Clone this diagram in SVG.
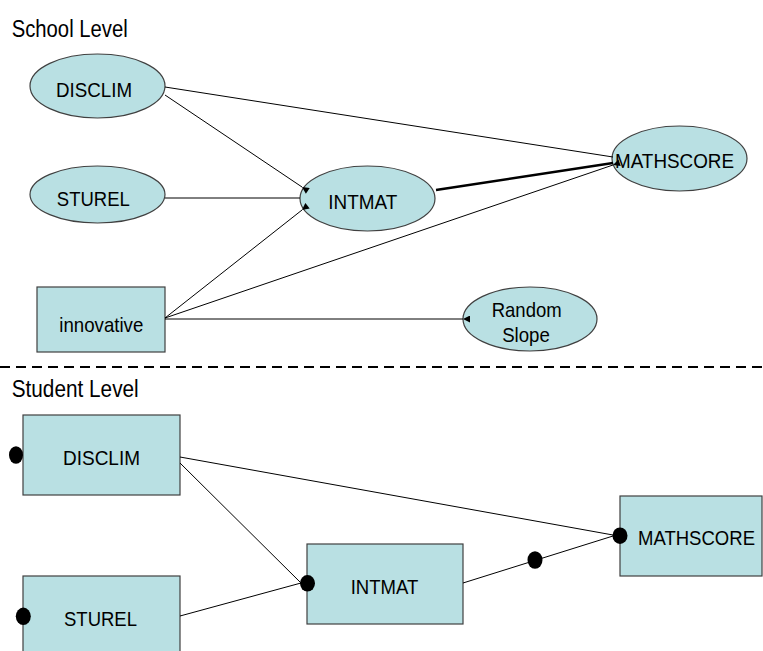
<svg xmlns="http://www.w3.org/2000/svg" width="763" height="651" viewBox="0 0 763 651">
<style>
.n{fill:#b9e0e3;stroke:#404040;stroke-width:1.2}
.t{font-family:"Liberation Sans",Arial,sans-serif;font-size:21px;fill:#000;text-anchor:middle}
.h{font-family:"Liberation Sans",Arial,sans-serif;font-size:23px;fill:#000}
.c{stroke:#000;stroke-width:1;fill:none}
.k{stroke:#000;stroke-width:2.5;fill:none}
.d{fill:#000}
</style>
<defs>
<marker id="ah" markerUnits="userSpaceOnUse" markerWidth="8" markerHeight="8" refX="0" refY="3.5" orient="auto">
<path d="M7,0 L0,3.5 L7,7 z" fill="#000"/>
</marker>
</defs>
<rect width="763" height="651" fill="#fff"/>
<text class="h" x="11.7" y="36.7" textLength="116" lengthAdjust="spacingAndGlyphs">School Level</text>
<text class="h" x="11.7" y="396.7" textLength="127" lengthAdjust="spacingAndGlyphs">Student Level</text>
<line x1="0" y1="367" x2="763" y2="367" stroke="#000" stroke-width="2" stroke-dasharray="10 6"/>
<g id="s_disclim"><ellipse class="n" cx="97.5" cy="86" rx="67.5" ry="32"/><text class="t" x="94" y="97" textLength="76" lengthAdjust="spacingAndGlyphs">DISCLIM</text></g>
<g id="s_sturel"><ellipse class="n" cx="97.5" cy="194.5" rx="67.5" ry="28.5"/><text class="t" x="93.3" y="206" textLength="73" lengthAdjust="spacingAndGlyphs">STUREL</text></g>
<g id="s_intmat"><ellipse class="n" cx="367.5" cy="198.5" rx="67.5" ry="32.5"/><text class="t" x="362.8" y="209" textLength="69" lengthAdjust="spacingAndGlyphs">INTMAT</text></g>
<g id="s_mathscore"><ellipse class="n" cx="679.5" cy="158.5" rx="67.5" ry="32.5"/><text class="t" x="674.5" y="168.3" textLength="119" lengthAdjust="spacingAndGlyphs">MATHSCORE</text></g>
<g id="s_random"><ellipse class="n" cx="530" cy="319" rx="67" ry="32"/><text class="t" x="526.7" y="316.7" textLength="70" lengthAdjust="spacingAndGlyphs">Random</text><text class="t" x="526" y="342" textLength="47.7" lengthAdjust="spacingAndGlyphs">Slope</text></g>
<g id="s_innovative"><rect class="n" x="37" y="287" width="128" height="65"/><text class="t" x="101.3" y="332.3" textLength="84" lengthAdjust="spacingAndGlyphs">innovative</text></g>
<g id="t_disclim"><rect class="n" x="23" y="415" width="157" height="80"/><text class="t" x="101.5" y="465" textLength="77" lengthAdjust="spacingAndGlyphs">DISCLIM</text><ellipse class="d" cx="16" cy="455" rx="7" ry="8.7"/></g>
<g id="t_sturel"><rect class="n" x="23" y="576" width="157" height="80"/><text class="t" x="100.5" y="625.7" textLength="73" lengthAdjust="spacingAndGlyphs">STUREL</text><ellipse class="d" cx="23.3" cy="616.3" rx="7.5" ry="8.7"/></g>
<g id="t_intmat"><rect class="n" x="307" y="544" width="156" height="80"/><text class="t" x="384.5" y="594" textLength="67.6" lengthAdjust="spacingAndGlyphs">INTMAT</text></g>
<g id="t_mathscore"><rect class="n" x="620" y="496" width="142" height="80"/><text class="t" x="696.5" y="545" textLength="117" lengthAdjust="spacingAndGlyphs">MATHSCORE</text></g>
<g id="connectors">
<line class="c" x1="165" y1="87" x2="613" y2="157"/>
<line class="c" x1="165" y1="95" x2="302" y2="187" marker-end="url(#ah)"/>
<line class="c" x1="165" y1="198" x2="300" y2="198"/>
<line class="c" x1="165" y1="318" x2="302" y2="210" marker-end="url(#ah)"/>
<line class="c" x1="165" y1="318" x2="613" y2="165" marker-end="url(#ah)"/>
<line class="k" x1="436" y1="190" x2="613" y2="163"/>
<line class="c" x1="165" y1="319" x2="463" y2="319" marker-end="url(#ah)"/>
<line class="c" x1="180" y1="457" x2="613" y2="535"/>
<line class="c" x1="180" y1="463" x2="301" y2="583"/>
<line class="c" x1="180" y1="616" x2="301" y2="583"/>
<line class="c" x1="463" y1="583" x2="613" y2="536"/>
<ellipse class="d" cx="535" cy="560" rx="7.5" ry="8.7"/>
<ellipse class="d" cx="307.5" cy="583.3" rx="7.5" ry="8.3"/>
<ellipse class="d" cx="620" cy="535.7" rx="7.5" ry="8.3"/>
</g>
</svg>
